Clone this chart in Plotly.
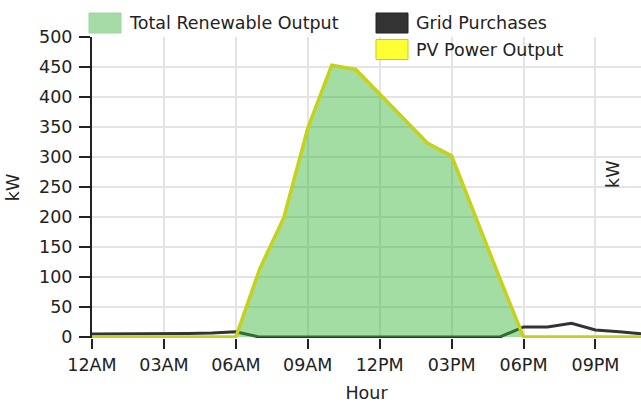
import plotly.graph_objects as go

hours = list(range(24))
tick_hours = [0, 3, 6, 9, 12, 15, 18, 21]
tick_labels = ["12AM", "03AM", "06AM", "09AM", "12PM", "03PM", "06PM", "09PM"]

pv_output = [0, 0, 0, 0, 0, 0, 0, 114, 199, 348, 453, 446,
             405, 364, 323, 302, 200, 99, 0, 0, 0, 0, 0, 0]
total_renewable = [0, 0, 0, 0, 0, 0, 0, 114, 199, 348, 453, 446,
                   405, 364, 323, 302, 200, 99, 0, 0, 0, 0, 0, 0]
grid_purchases = [5, 5, 5, 5, 6, 7, 9, 0, 0, 0, 0, 0,
                  0, 0, 0, 0, 0, 0, 17, 17, 23, 12, 9, 5]

W, H = 641, 403
MARGIN = dict(l=92, r=0, t=37, b=65)
FONT = "DejaVu Sans"
TEXT_COLOR = "#222222"

GREEN_FILL = "rgba(50, 180, 50, 0.45)"
PV_COLOR = "#c5d11a"
GRID_COLOR = "#333333"

# drop the default 8px body margin so the figure fills the window exactly
PAGE_FIX = "document.body.style.margin='0';document.body.style.overflow='hidden';"


def paper_x(px):
    return (px - MARGIN["l"]) / (W - MARGIN["l"] - MARGIN["r"])


def paper_y(py):
    return (H - MARGIN["b"] - py) / (H - MARGIN["t"] - MARGIN["b"])


fig = go.Figure()

# black grid line sits under the translucent green area
fig.add_trace(go.Scatter(
    x=hours, y=grid_purchases, name="Grid Purchases", mode="lines",
    line=dict(color=GRID_COLOR, width=3),
))
fig.add_trace(go.Scatter(
    x=hours, y=total_renewable, name="Total Renewable Output", mode="lines",
    fill="tozeroy", fillcolor=GREEN_FILL, line=dict(width=0),
))
fig.add_trace(go.Scatter(
    x=hours, y=pv_output, name="PV Power Output", mode="lines",
    line=dict(color=PV_COLOR, width=3.5),
))

# hand-made legend: boxes + labels laid out like the original
legend_items = [
    ("Total Renewable Output", "#a5dca5", "#9fd49f", 89, 23),
    ("Grid Purchases", "#333333", "#222222", 376, 23),
    ("PV Power Output", "#ffff33", "#c9c91e", 376, 49.5),
]
shapes = []
annotations = []
for label, fill, edge, left, mid in legend_items:
    shapes.append(dict(
        type="rect", xref="paper", yref="paper",
        x0=paper_x(left), x1=paper_x(left + 32),
        y0=paper_y(mid - 10), y1=paper_y(mid + 10),
        fillcolor=fill, line=dict(color=edge, width=1), layer="above",
    ))
    annotations.append(dict(
        text=label, xref="paper", yref="paper",
        x=paper_x(left + 38), y=paper_y(mid),
        xanchor="left", yanchor="middle", showarrow=False,
        font=dict(family=FONT, size=17.5, color=TEXT_COLOR),
    ))

# stray right-hand axis title
annotations.append(dict(
    text="kW", xref="paper", yref="paper",
    x=paper_x(613), y=paper_y(175), textangle=-90,
    xanchor="center", yanchor="middle", showarrow=False,
    font=dict(family=FONT, size=17.5, color=TEXT_COLOR),
))

fig.update_layout(
    width=W,
    height=H,
    margin=MARGIN,
    autosize=False,
    showlegend=False,
    paper_bgcolor="white",
    plot_bgcolor="white",
    font=dict(family=FONT, size=17.5, color=TEXT_COLOR),
    shapes=shapes,
    annotations=annotations,
    xaxis=dict(
        range=[0, 22.9],
        tickmode="array",
        tickvals=tick_hours,
        ticktext=tick_labels,
        ticks="outside",
        ticklen=10,
        tickwidth=2,
        tickcolor=TEXT_COLOR,
        ticklabelstandoff=1,
        showline=False,
        showgrid=True,
        gridcolor="#e4e4e4",
        gridwidth=2,
        zeroline=False,
        automargin=False,
        title=dict(text="Hour", standoff=27, font=dict(size=17.5)),
    ),
    yaxis=dict(
        range=[-1.5, 500],
        tickmode="linear",
        tick0=0,
        dtick=50,
        ticks="outside",
        ticklen=11,
        tickwidth=2,
        tickcolor=TEXT_COLOR,
        ticklabelstandoff=3,
        showline=True,
        linecolor=TEXT_COLOR,
        linewidth=2,
        showgrid=True,
        gridcolor="#e4e4e4",
        gridwidth=2,
        zeroline=False,
        automargin=False,
        title=dict(text="kW", standoff=15, font=dict(size=17.5)),
    ),
)

fig.write_html("out.html", post_script=PAGE_FIX, config={"displayModeBar": False})
